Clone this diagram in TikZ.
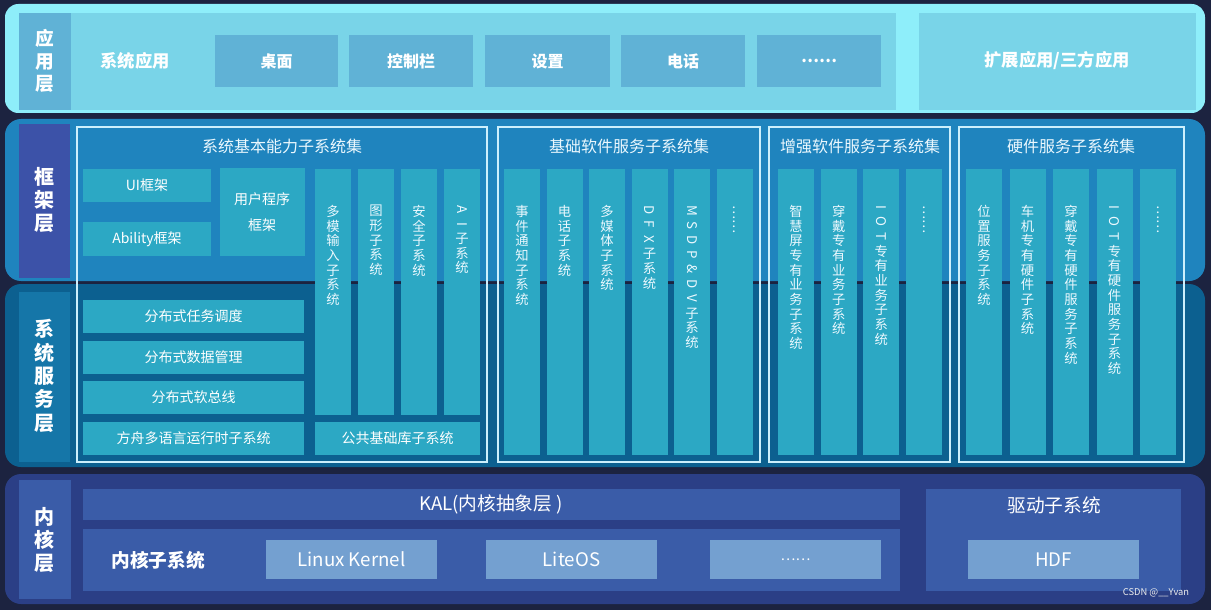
\documentclass[tikz,border=0pt]{standalone}
\usepackage{fontspec}
\setmainfont{Noto Sans CJK SC}
\newcommand\rl[1]{\rotatebox[origin=c]{-90}{#1}}
\newcommand\bx[7]{\fill[#6] (#2,#3) rectangle (#4,#5); \node[txt] (#1) at ({(#2+#4)/2},{(#3+#5)/2}) {#7};}
\begin{document}
\begin{tikzpicture}[x=0.75pt,y=-0.75pt,
 txt/.style={text=white,inner sep=0pt,font=\fontsize{10.5}{12}\selectfont},
 big/.style={text=white,inner sep=0pt,font=\fontsize{13}{15}\selectfont\bfseries},
 lab/.style={text=white,inner sep=0pt,align=center,font=\fontsize{15}{17.5}\selectfont\bfseries},
 ttl/.style={text=white!92!cyan,inner sep=0pt,font=\fontsize{12}{14}\selectfont},
 vt/.style={text=white!92!cyan,inner sep=0pt,anchor=north,align=center,font=\fontsize{10}{11}\selectfont},
 frm/.style={draw=white!80!cyan,line width=1.1pt}]
\useasboundingbox (0,0) rectangle (1211,610);
\fill[fill=black!15!blue!25!black,fill=black!78!blue!60!cyan] (0,0) rectangle (1211,610);
\fill[black!80!blue] (0,0) rectangle (1211,610);
\definecolor{bgc}{HTML}{1C2340}
\fill[bgc] (0,0) rectangle (1211,610);
% colours
\definecolor{appouter}{HTML}{8EEEFA}
\definecolor{appin}{HTML}{79D4E8}
\definecolor{appbox}{HTML}{60B2D6}
\definecolor{fwl}{HTML}{1F84BE}
\definecolor{fwlab}{HTML}{3C52A8}
\definecolor{svl}{HTML}{0C6090}
\definecolor{svlab}{HTML}{1576A8}
\definecolor{col}{HTML}{2CA8C4}
\definecolor{knl}{HTML}{2B3F86}
\definecolor{knbox}{HTML}{3A5CA8}
\definecolor{knlight}{HTML}{74A0D0}
% application layer
\fill[appouter,rounded corners=10] (5,4) rectangle (1205,113);
\fill[appin] (71,13) rectangle (896,110);
\fill[appin] (919,13) rectangle (1196,110);
\fill[appbox] (19,13) rectangle (71,110);
\node[lab,font=\fontsize{14}{17}\selectfont\bfseries] (lapp) at (45,61) {应\\用\\层};
\node[big] (sysapp) at (135,61) {系统应用};
\bx{desk}{215}{35}{338}{87}{appbox}{\textbf{\large 桌面}}
\bx{ctrl}{349}{35}{473}{87}{appbox}{\textbf{\large 控制栏}}
\bx{sett}{485}{35}{610}{87}{appbox}{\textbf{\large 设置}}
\bx{phone}{621}{35}{745}{87}{appbox}{\textbf{\large 电话}}
\bx{more}{757}{35}{881}{87}{appbox}{\textbf{\large ……}}
\node[big] (ext) at (1057,61) {扩展应用/三方应用};
% framework and service layers
\fill[fwl,rounded corners=12] (5,119) rectangle (1205,281);
\fill[svl,rounded corners=12] (5,284) rectangle (1205,467);
\fill[fwlab] (19,124) rectangle (70,278);
\fill[svlab] (19,292) rectangle (70,462);
\node[lab] (lfw) at (44,200) {框\\架\\层};
\node[lab] (lsv) at (44,376) {系\\统\\服\\务\\层};
% frames
\draw[frm] (77,127) rectangle (487,462);
\draw[frm] (498,127) rectangle (760,462);
\draw[frm] (769,127) rectangle (950,462);
\draw[frm] (959,127) rectangle (1184,462);
\node[ttl] (t1) at (282,146) {系统基本能力子系统集};
\node[ttl] (t2) at (629,146) {基础软件服务子系统集};
\node[ttl] (t3) at (860,146) {增强软件服务子系统集};
\node[ttl] (t4) at (1071,146) {硬件服务子系统集};
% frame 1
\bx{ui}{83}{169}{211}{202}{col}{UI框架}
\bx{abil}{83}{222}{211}{256}{col}{Ability框架}
\fill[col] (220,168) rectangle (305,256);
\node[txt,align=center,font=\fontsize{10.5}{19}\selectfont] (user) at (262,212) {用户程序\\框架};
\bx{task}{83}{300}{304}{333}{col}{分布式任务调度}
\bx{data}{83}{341}{304}{374}{col}{分布式数据管理}
\bx{bus}{83}{381}{304}{414}{col}{分布式软总线}
\bx{ark}{83}{422}{304}{455}{col}{方舟多语言运行时子系统}
\bx{lib}{315}{422}{480}{455}{col}{公共基础库子系统}
\fill[col] (315,169) rectangle (351,415);
\fill[col] (358,169) rectangle (394,415);
\fill[col] (401,169) rectangle (437,415);
\fill[col] (444,169) rectangle (480,415);
\node[vt] (c1) at (333,205) {多\\模\\输\\入\\子\\系\\统};
\node[vt] (c2) at (376,205) {图\\形\\子\\系\\统};
\node[vt] (c3) at (419,205) {安\\全\\子\\系\\统};
\node[vt] (c4) at (462,205) {\rl{A}\\\rl{I}\\子\\系\\统};
% frame 2
\foreach \i in {0,...,5} {\fill[col] ({504+42.5*\i},169) rectangle ({540+42.5*\i},455);}
\node[vt] (b1) at (522,205) {事\\件\\通\\知\\子\\系\\统};
\node[vt] (b2) at (564.5,205) {电\\话\\子\\系\\统};
\node[vt] (b3) at (607,205) {多\\媒\\体\\子\\系\\统};
\node[vt] (b4) at (649.5,205) {\rl{D}\\\rl{F}\\\rl{X}\\子\\系\\统};
\node[vt] (b5) at (692,205) {\rl{M}\\\rl{S}\\\rl{D}\\\rl{P}\\\rl{\&}\\\rl{D}\\\rl{V}\\子\\系\\统};
\node[vt] (b6) at (734.5,205) {\rl{……}};
% frame 3
\foreach \i in {0,...,3} {\fill[col] ({778+42.7*\i},169) rectangle ({814+42.7*\i},455);}
\node[vt] (e1) at (796,205) {智\\慧\\屏\\专\\有\\业\\务\\子\\系\\统};
\node[vt] (e2) at (838.7,205) {穿\\戴\\专\\有\\业\\务\\子\\系\\统};
\node[vt] (e3) at (881.4,205) {\rl{I}\\\rl{O}\\\rl{T}\\专\\有\\业\\务\\子\\系\\统};
\node[vt] (e4) at (924.1,205) {\rl{……}};
% frame 4
\foreach \i in {0,...,4} {\fill[col] ({966+43.5*\i},169) rectangle ({1002+43.5*\i},455);}
\node[vt] (h1) at (984,205) {位\\置\\服\\务\\子\\系\\统};
\node[vt] (h2) at (1027.5,205) {车\\机\\专\\有\\硬\\件\\子\\系\\统};
\node[vt] (h3) at (1071,205) {穿\\戴\\专\\有\\硬\\件\\服\\务\\子\\系\\统};
\node[vt] (h4) at (1114.5,205) {\rl{I}\\\rl{O}\\\rl{T}\\专\\有\\硬\\件\\服\\务\\子\\系\\统};
\node[vt] (h5) at (1158,205) {\rl{……}};
% kernel layer
\fill[knl,rounded corners=12] (5,474) rectangle (1205,604);
\fill[knbox] (19,480) rectangle (71,599);
\node[lab] (lkn) at (45,540) {内\\核\\层};
\fill[knbox] (83,489) rectangle (900,520);
\node[txt,font=\fontsize{14}{16}\selectfont] (kal) at (491,504) {KAL(内核抽象层 )};
\fill[knbox] (83,529) rectangle (900,591);
\node[big,font=\fontsize{14}{16}\selectfont\bfseries] (ksub) at (158,560) {内核子系统};
\bx{linux}{266}{540}{437}{579}{knlight}{\fontsize{14}{16}\selectfont Linux Kernel}
\bx{lite}{486}{540}{657}{579}{knlight}{\fontsize{14}{16}\selectfont LiteOS}
\bx{kmore}{710}{540}{881}{579}{knlight}{……}
\fill[knbox] (926,489) rectangle (1181,591);
\node[txt,font=\fontsize{14}{16}\selectfont] (drv) at (1054,505) {驱动子系统};
\bx{hdf}{968}{540}{1139}{579}{knlight}{\fontsize{14}{16}\selectfont HDF}
\node[text=white!85!gray,inner sep=0pt,font=\fontsize{7}{8}\selectfont] (wm) at (1156,593) {CSDN @\_\_Yvan};
\end{tikzpicture}
\end{document}
